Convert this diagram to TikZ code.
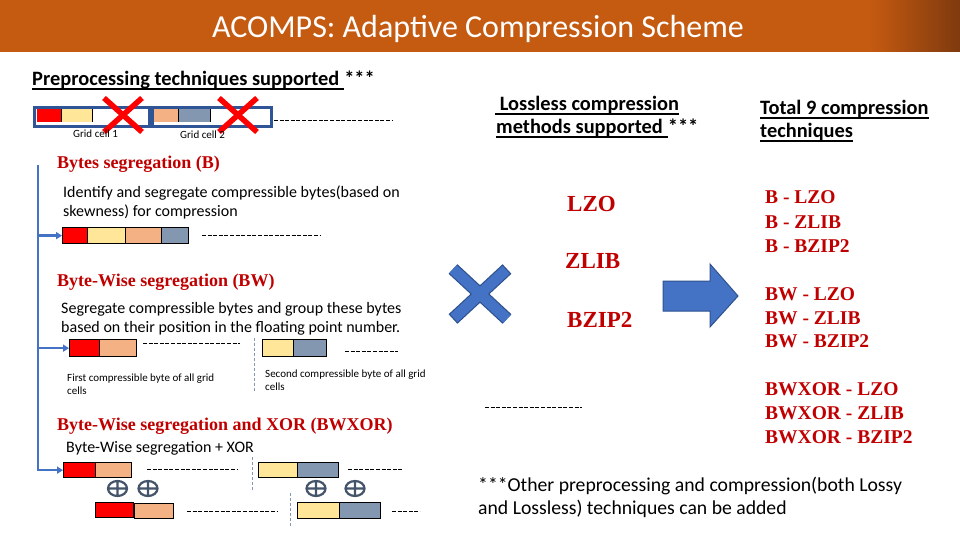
\documentclass[tikz,border=0pt]{standalone}
\usepackage{fontspec}
\setmainfont{Carlito}
\newfontfamily\tms{Liberation Serif}
\usetikzlibrary{arrows.meta}
\definecolor{titlebg}{HTML}{C55A11}
\definecolor{titledark}{HTML}{7F3A0E}
\definecolor{cred}{HTML}{FF0000}
\definecolor{cyel}{HTML}{FFE699}
\definecolor{cpch}{HTML}{F4B183}
\definecolor{cgry}{HTML}{8497B0}
\definecolor{cnavy}{HTML}{2F5597}
\definecolor{hdr}{HTML}{C00000}
\definecolor{xblue}{HTML}{4472C4}
\definecolor{xedge}{HTML}{2F528F}
\definecolor{opl}{HTML}{44546A}
\definecolor{sepline}{HTML}{8497B0}
\newcommand\segm[6]{\node[segbox, fill=#2, minimum width=#5pt, minimum height=#6pt] (#1) at (#3,#4) {};}
\newcommand\plainseg[6]{\node[plainbox, fill=#2, minimum width=#5pt, minimum height=#6pt] (#1) at (#3,#4) {};}
\newcommand\ulnode[1]{\draw[line width=1.5pt] ([yshift=-3pt]#1.base west) -- ([yshift=-3pt]#1.base east);}
\begin{document}
\begin{tikzpicture}[x=1pt,y=-1pt,
  txt/.style={anchor=base west, inner sep=0pt},
  segbox/.style={draw=black, line width=1.3pt, inner sep=0pt, anchor=north west, rectangle},
  plainbox/.style={draw=none, inner sep=0pt, anchor=north west, rectangle},
  cellbox/.style={draw=cnavy, line width=3pt, fill=white, inner sep=0pt, anchor=north west, rectangle},
  dl/.style={line width=0.8pt, dash pattern=on 4pt off 1.6pt},
  sep/.style={draw=sepline, line width=0.8pt, dash pattern=on 3pt off 2pt},
  redx/.style={draw=cred, line width=5.5pt},
  vl/.style={draw=xblue, line width=2.6pt},
  va/.style={draw=xblue, line width=2.6pt, -{Triangle[length=6pt,width=7pt]}},
  hdrfont/.style={font=\tms\fontsize{18}{20}\selectfont\bfseries, text=hdr},
  bodyfont/.style={font=\fontsize{16}{18}\selectfont},
  smallfont/.style={font=\fontsize{11}{12}\selectfont},
  ulfont/.style={font=\fontsize{20.4}{22}\selectfont\bfseries},
  algfont/.style={font=\tms\fontsize{23}{26}\selectfont\bfseries, text=hdr},
  listfont/.style={font=\tms\fontsize{19.5}{22}\selectfont\bfseries, text=hdr},
  xorsym/.pic={\draw[draw=opl, line width=2.2pt] (0,0) ellipse (9.5 and 7.5) (-9.5,0) -- (9.5,0) (0,-7.5) -- (0,7.5);}
]
\useasboundingbox (0,0) rectangle (960,540);
% title bar
\fill[titlebg] (0,0) rectangle (960,52);
\shade[left color=titlebg, right color=titledark] (870,0) rectangle (960,52);
\node[text=white, font=\fontsize{32}{36}\selectfont] (title) at (478,29) {ACOMPS: Adaptive Compression Scheme};

% preprocessing header
\node[txt, ulfont] (pre) at (32,86) {Preprocessing techniques supported\ \mbox{}};
\node[txt, ulfont] (prestar) at (pre.base east) {***};
\ulnode{pre}

% grid cells
\node[cellbox, minimum width=115pt, minimum height=19pt] (g1) at (33,106) {};
\plainseg{g1a}{cred}{37}{109}{24}{13}
\plainseg{g1b}{cyel}{61}{109}{31}{13}
\draw[line width=1.6pt] (g1a.north east) -- (g1a.south east) (g1b.north east) -- (g1b.south east);
\node[cellbox, minimum width=119pt, minimum height=19pt] (g2) at (151,106) {};
\plainseg{g2a}{cpch}{154}{109}{24}{13}
\plainseg{g2b}{cgry}{178}{109}{32}{13}
\draw[line width=1.6pt] (g2a.north east) -- (g2a.south east) (g2b.north east) -- (g2b.south east);
\draw[redx] (104,98) -- (142,132) (104,132) -- (142,98);
\draw[redx] (219,98) -- (257,132) (219,132) -- (257,98);
\node[txt, smallfont] (gl1) at (73,138) {Grid cell 1};
\node[txt, smallfont] (gl2) at (180,139) {Grid cell 2};
\draw[dl] (274,120) -- (392,120);

% Bytes segregation
\node[txt, hdrfont] (hb) at (57,168) {Bytes segregation (B)};
\node[txt, bodyfont] (hb1) at (63,197) {Identify and segregate compressible bytes(based on};
\node[txt, bodyfont] (hb2) at (63,216) {skewness) for compression};
\segm{b1}{cred}{62}{227}{25}{16}
\segm{b2}{cyel}{87}{227}{38}{16}
\segm{b3}{cpch}{125}{227}{36}{16}
\segm{b4}{cgry}{161}{227}{27}{16}
\draw[dl] (202,235) -- (321,235);

% Byte-wise segregation
\node[txt, hdrfont] (hw) at (57,286) {Byte-Wise segregation (BW)};
\node[txt, bodyfont] (hw1) at (61,313) {Segregate compressible bytes and group these bytes};
\node[txt, bodyfont] (hw2) at (61,332) {based on their position in the floating point number.};
\segm{w1}{cred}{69}{339}{30}{17}
\segm{w2}{cpch}{99}{339}{37}{17}
\draw[dl] (143,343) -- (240,343);
\draw[sep] (254,338) -- (254,392);
\segm{w3}{cyel}{262}{339}{31}{17}
\segm{w4}{cgry}{293}{339}{33}{17}
\draw[dl] (345,351) -- (398,351);
\node[txt, smallfont] (wl1) at (67,381) {First compressible byte of all grid};
\node[txt, smallfont] (wl1b) at (67,394) {cells};
\node[txt, smallfont] (wl2) at (265,377) {Second compressible byte of all grid};
\node[txt, smallfont] (wl2b) at (265,390) {cells};

% BWXOR
\node[txt, hdrfont] (hx) at (57,430) {Byte-Wise segregation and XOR (BWXOR)};
\node[txt, bodyfont] (hx1) at (66,452) {Byte-Wise segregation + XOR};
\segm{x1}{cred}{63}{462}{32}{15}
\segm{x2}{cpch}{95}{462}{36}{15}
\draw[dl] (147,469) -- (237,469);
\draw[sep] (252,457) -- (252,490);
\segm{x3}{cyel}{258}{462}{39}{15}
\segm{x4}{cgry}{297}{462}{41}{15}
\draw[dl] (348,469) -- (402,469);
\pic at (117.5,488.5) {xorsym};
\pic at (148,488.5) {xorsym};
\pic at (316,488.5) {xorsym};
\pic at (355,488.5) {xorsym};
\segm{y1}{cred}{95}{502}{38}{15}
\segm{y2}{cpch}{134}{503}{39}{15}
\draw[dl] (187,511) -- (277,511);
\draw[sep] (290,493) -- (290,527);
\segm{y3}{cyel}{297}{502}{42}{16}
\segm{y4}{cgry}{339}{502}{41}{16}
\draw[dl] (392,511) -- (420,511);

% blue vertical connector
\coordinate (vtop) at (38,165);
\draw[vl] (vtop) |- ([xshift=-5pt]x1.west);
\draw[va] (vtop |- x1.west) -- (x1.west);
\draw[va] (vtop |- b1.west) -- (b1.west);
\draw[va] (vtop |- w1.west) -- (w1.west);

% Lossless header
\node[txt, ulfont] (ll1) at (495,111) {\ Lossless compression};
\ulnode{ll1}
\node[txt, ulfont] (ll2) at (496,134) {methods supported\ \mbox{}};
\node[txt, ulfont] (ll2s) at (ll2.base east) {***};
\ulnode{ll2}

% Total header
\node[txt, ulfont] (tt1) at (760,115) {Total 9 compression};
\ulnode{tt1}
\node[txt, ulfont] (tt2) at (760,138) {techniques};
\ulnode{tt2}

% algorithms
\node[txt, algfont] (lzo) at (567,211) {LZO};
\node[txt, algfont] (zlib) at (565,268) {ZLIB};
\node[txt, algfont] (bzip) at (567,327) {BZIP2};
\draw[dl] (485,407) -- (582,407);

% blue multiply sign
\draw[draw=xedge, line width=13pt] (453,269) -- (507,319) (453,319) -- (507,269);
\draw[draw=xblue, line width=10.6pt, shorten <=1.2pt, shorten >=1.2pt] (453,269) -- (507,319) (453,319) -- (507,269);

% block arrow
\filldraw[fill=xblue, draw=xedge, line width=1pt] (663,281) -- (710,281) -- (710,264) -- (738,296) -- (710,327) -- (710,311) -- (663,311) -- cycle;

% list
\node[txt, listfont] (l1) at (765,203) {B - LZO};
\node[txt, listfont] (l2) at (765,228) {B - ZLIB};
\node[txt, listfont] (l3) at (765,252) {B - BZIP2};
\node[txt, listfont] (l4) at (765,300) {BW - LZO};
\node[txt, listfont] (l5) at (765,324) {BW - ZLIB};
\node[txt, listfont] (l6) at (765,347) {BW - BZIP2};
\node[txt, listfont] (l7) at (765,395) {BWXOR - LZO};
\node[txt, listfont] (l8) at (765,419) {BWXOR - ZLIB};
\node[txt, listfont] (l9) at (765,443) {BWXOR - BZIP2};

% footnote
\node[txt, font=\fontsize{19.7}{22}\selectfont] (fn1) at (478,491) {***Other preprocessing and compression(both Lossy};
\node[txt, font=\fontsize{19.7}{22}\selectfont] (fn2) at (478,514) {and Lossless) techniques can be added};
\end{tikzpicture}
\end{document}
